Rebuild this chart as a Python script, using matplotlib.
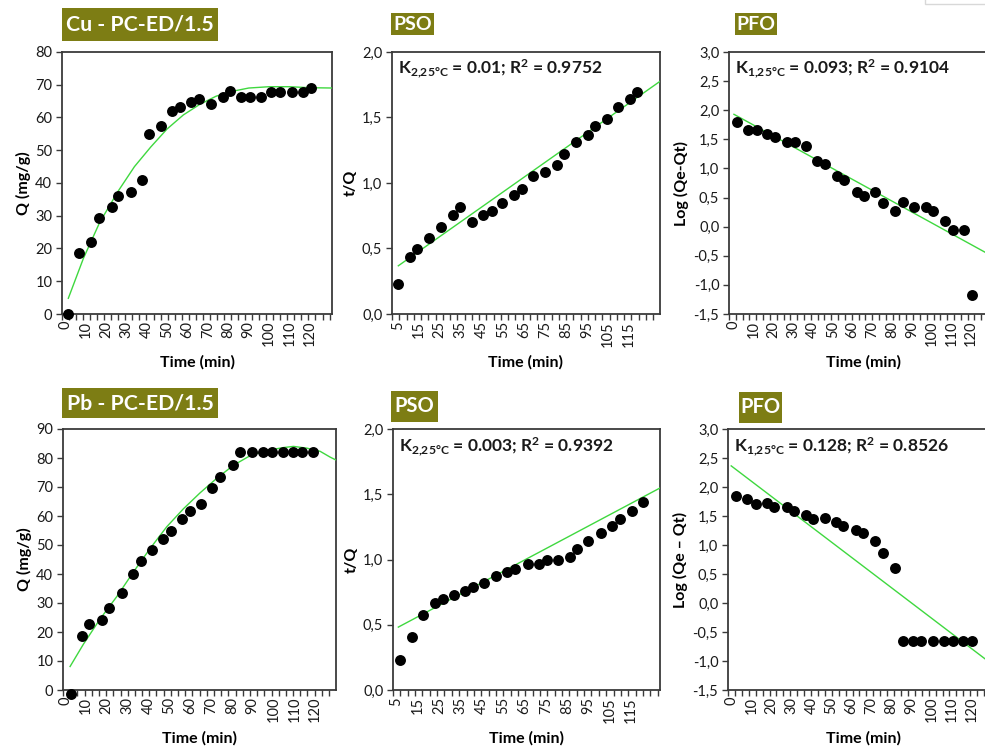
import numpy as np
import matplotlib
matplotlib.use("Agg")
import matplotlib.pyplot as plt
from matplotlib.ticker import FuncFormatter, FixedLocator
from matplotlib.patches import Rectangle

plt.rcParams['font.family'] = ['Lato', 'DejaVu Sans']
plt.rcParams['mathtext.fontset'] = 'custom'
plt.rcParams['mathtext.rm'] = 'Lato:bold'
plt.rcParams['mathtext.bf'] = 'Lato:bold'
plt.rcParams['mathtext.it'] = 'Lato:bold'
plt.rcParams['mathtext.default'] = 'bf'

# ---------------- data ----------------
# Cu kinetics
cu_t = [1.6, 6.9, 12.7, 16.7, 22.9, 26.1, 32.2, 37.6, 41.1, 47.0, 52.4, 56.3, 61.7,
        65.8, 71.3, 77.2, 80.8, 86.0, 90.6, 96.0, 101.0, 105.3, 111.0, 116.4, 120.5]
cu_q = [0, 18.5, 22, 29.2, 32.6, 36.1, 37.2, 41, 54.9, 57.4, 61.9, 63.2, 64.6,
        65.5, 64.2, 66.3, 68.1, 66.3, 66.3, 66.3, 67.8, 67.8, 67.8, 67.8, 69.0]
cu_fit_t = [1.6, 9, 17, 26, 34, 42, 50, 58, 66, 74, 82, 90, 100, 110, 120, 131]
cu_fit_q = [4.8, 17, 28, 37.5, 45, 51, 56.5, 60.8, 64, 66.5, 68, 69, 69.4, 69.4, 69.1, 69.0]

pso1_t = [5.3, 10.9, 14.4, 19.9, 25.6, 31.1, 34.6, 40.2, 45.7, 49.7, 54.8, 60.3,
          63.9, 69.2, 75.0, 80.6, 84.2, 89.6, 95.3, 98.8, 104.3, 109.9, 115.5, 119.0]
pso1_y = [0.229, 0.437, 0.493, 0.582, 0.666, 0.755, 0.813, 0.699, 0.755, 0.788, 0.844, 0.905,
          0.958, 1.052, 1.083, 1.141, 1.225, 1.314, 1.365, 1.433, 1.491, 1.581, 1.639, 1.695]
pso1_fit_t = [5.3, 129.7]
pso1_fit_y = [0.368, 1.776]

pfo1_t = [1.35, 6.9, 11.5, 16.9, 20.8, 26.7, 30.9, 36.5, 41.9, 46.1, 52.0, 55.9, 62.1,
          65.8, 71.4, 75.6, 81.5, 85.7, 91.3, 97.0, 100.9, 106.8, 110.7, 116.6, 120.3]
pfo1_y = [1.79, 1.66, 1.66, 1.60, 1.54, 1.45, 1.46, 1.39, 1.13, 1.07, 0.87, 0.80, 0.60,
          0.53, 0.60, 0.41, 0.27, 0.42, 0.34, 0.34, 0.27, 0.09, -0.06, -0.06, -1.17]
pfo1_fit_t = [0, 133]
pfo1_fit_y = [1.93, -0.55]

# Pb kinetics
pb_t = [2.9, 8.0, 11.7, 17.6, 21.3, 27.2, 32.5, 36.3, 41.6, 47.2, 50.9, 56.3, 60.0,
        65.3, 70.4, 74.4, 80.5, 84.0, 89.6, 95.2, 99.2, 104.8, 109.6, 113.6, 119.2]
pb_q = [-1.3, 18.7, 22.8, 24.1, 28.2, 33.5, 40.1, 44.4, 48.2, 52.2, 54.8, 58.8, 61.7,
        64.1, 69.5, 73.6, 77.6, 81.9, 81.9, 81.9, 81.9, 81.9, 81.9, 81.9, 81.9]
pb_fit_t = [2.4, 8.8, 16.8, 24.8, 32.8, 40.8, 48.8, 56.8, 64.8, 72.8, 80.8, 88.8,
            96.8, 104.8, 109.6, 116, 122.4, 127.2, 130]
pb_fit_q = [8.1, 15.8, 24.5, 32.2, 40.7, 48.8, 56.3, 62.5, 68, 73, 77.5, 80.8,
            82.6, 83.6, 84.0, 83.4, 82.3, 80.3, 79.3]

pso2_t = [6.6, 12.0, 17.5, 23.0, 26.6, 31.9, 37.1, 41.0, 46.2, 51.5, 56.6, 60.6,
          66.5, 71.8, 75.4, 80.9, 86.4, 89.8, 95.0, 100.8, 106.3, 109.8, 115.3, 120.8]
pso2_y = [0.228, 0.406, 0.576, 0.668, 0.698, 0.728, 0.756, 0.787, 0.820, 0.876, 0.906, 0.931,
          0.964, 0.964, 0.995, 0.995, 1.020, 1.079, 1.142, 1.200, 1.256, 1.312, 1.371, 1.439]
pso2_fit_t = [5.8, 128.6]
pso2_fit_y = [0.482, 1.548]

pfo2_t = [2.3, 8.0, 12.2, 17.6, 21.3, 27.6, 31.5, 37.1, 40.9, 46.8, 52.3, 55.9, 62.3,
          65.9, 71.7, 75.9, 81.7, 85.6, 90.4, 94.7, 100.6, 106.2, 110.5, 115.8, 120.0]
pfo2_y = [1.849, 1.797, 1.711, 1.722, 1.649, 1.654, 1.580, 1.523, 1.448, 1.465, 1.391, 1.322, 1.265,
          1.208, 1.065, 0.864, 0.607, -0.65, -0.65, -0.65, -0.65, -0.65, -0.65, -0.65, -0.65]
pfo2_fit_t = [0, 133]
pfo2_fit_y = [2.364, -1.133]

titles = ["Cu - PC-ED/1.5", "PSO", "PFO", "Pb - PC-ED/1.5", "PSO", "PFO"]
annots = [None,
          r"K$_{2{,}25°C}$ = 0.01; R$^{2}$ = 0.9752",
          r"K$_{1{,}25°C}$ = 0.093; R$^{2}$ = 0.9104",
          None,
          r"K$_{2{,}25°C}$ = 0.003; R$^{2}$ = 0.9392",
          r"K$_{1{,}25°C}$ = 0.128; R$^{2}$ = 0.8526"]
ylabels = ["Q (mg/g)", "t/Q", "Log (Qe-Qt)", "Q (mg/g)", "t/Q", "Log (Qe \u2013 Qt)"]

# ---------------- figure ----------------
W, H = 985, 751
fig = plt.figure(figsize=(W / 100, H / 100), dpi=100)

GREEN = '#3fd83f'
OLIVE = '#7d7d14'
SPINE = '#3a3a3a'

def px_axes(l, t, r, b):
    return fig.add_axes([l / W, 1 - b / H, (r - l) / W, (b - t) / H])

def comma(v, pos):
    return f"{v:.1f}".replace('.', ',')

def style(ax, xlim, ylim, yticks, xlabels, decimal, ylabel):
    ax.set_xlim(*xlim)
    ax.set_ylim(*ylim)
    ax.set_yticks(yticks)
    if decimal:
        ax.yaxis.set_major_formatter(FuncFormatter(comma))
    ax.xaxis.set_major_locator(FixedLocator(xlabels))
    ax.set_xticklabels([str(v) for v in xlabels], rotation=90, fontsize=10.5, color='#1a1a1a')
    ax.xaxis.set_minor_locator(FixedLocator(np.arange(xlim[0], xlim[1], 3.45)))
    ax.tick_params(axis='x', which='major', length=0, pad=5)
    ax.tick_params(axis='x', which='minor', length=4, width=1.0, color=SPINE, direction='out')
    ax.tick_params(axis='y', which='major', length=4, width=1.0, color=SPINE,
                   labelsize=10.5, labelcolor='#1a1a1a', pad=3)
    for s in ax.spines.values():
        s.set_color(SPINE)
        s.set_linewidth(1.3)
    ax.set_xlabel("Time (min)", fontsize=11.5, fontweight='bold', labelpad=6)
    ax.set_ylabel(ylabel, fontsize=11.5, fontweight='bold', labelpad=3)

def scatter(ax, x, y):
    ax.scatter(x, y, s=62, color='black', zorder=4, clip_on=False, linewidths=0)

def fitline(ax, x, y):
    ax.plot(x, y, color=GREEN, lw=1.0, zorder=3, clip_on=True)

# axes rectangles in pixels (left, top, right, bottom)
rects = [(62, 52, 332, 314), (392, 52, 660, 314), (729, 52, 998, 314),
         (63, 429, 336, 690), (393, 429, 660, 690), (728, 429, 998, 690)]
axs = [px_axes(*r) for r in rects]

lab10 = list(range(0, 121, 10))
lab5 = list(range(5, 116, 10))

ax = axs[0]
fitline(ax, cu_fit_t, cu_fit_q)
scatter(ax, cu_t, cu_q)
style(ax, (-1.5, 130.8), (0, 80), range(0, 81, 10), lab10, False, ylabels[0])

ax = axs[1]
fitline(ax, pso1_fit_t, pso1_fit_y)
scatter(ax, pso1_t, pso1_y)
style(ax, (2.3, 129.7), (0, 2.0), np.arange(0, 2.01, 0.5), lab5, True, ylabels[1])

ax = axs[2]
fitline(ax, pfo1_fit_t, pfo1_fit_y)
scatter(ax, pfo1_t, pfo1_y)
style(ax, (-2.5, 133.6), (-1.5, 3.0), np.arange(-1.5, 3.01, 0.5), lab10, True, ylabels[2])

ax = axs[3]
fitline(ax, pb_fit_t, pb_fit_q)
scatter(ax, pb_t, pb_q)
style(ax, (-1.0, 130.0), (0, 90), range(0, 91, 10), lab10, False, ylabels[3])

ax = axs[4]
fitline(ax, pso2_fit_t, pso2_fit_y)
scatter(ax, pso2_t, pso2_y)
style(ax, (3.3, 128.6), (0, 2.0), np.arange(0, 2.01, 0.5), lab5, True, ylabels[4])

ax = axs[5]
fitline(ax, pfo2_fit_t, pfo2_fit_y)
scatter(ax, pfo2_t, pfo2_y)
style(ax, (-1.6, 133.0), (-1.5, 3.0), np.arange(-1.5, 3.01, 0.5), lab10, True, ylabels[5])

# annotations (text centre y in axes fraction)
ann_y = [None, 0.935, 0.935, None, 0.931, 0.931]
for ax, a, yy in zip(axs, annots, ann_y):
    if a:
        ax.text(0.022, yy, a, transform=ax.transAxes, fontsize=12.5, fontweight='bold',
                ha='left', va='center', color='#1a1a1a')

# olive title boxes: (left, top, right, bottom) in pixels, fontsize
boxes = [((62, 8, 218, 41), 15.3), ((391, 13, 434, 35), 14),
         ((735, 13, 777, 35), 14), ((62, 388, 218, 418), 15.3),
         ((391, 391, 438, 422), 14.5), ((739, 392, 782, 423), 14.5)]
for ((l, t, r, b), fs), txt in zip(boxes, titles):
    fig.patches.append(Rectangle((l / W, 1 - b / H), (r - l) / W, (b - t) / H,
                                 transform=fig.transFigure, facecolor=OLIVE,
                                 edgecolor='none', zorder=0))
    fig.text((l + r) / 2 / W, 1 - (t + b) / 2 / H, txt, fontsize=fs, fontweight='bold',
             color='white', ha='center', va='center')

# faint box at top right (screenshot artefact)
fig.patches.append(Rectangle((925 / W, 1 - 4 / H), 70 / W, 10 / H, transform=fig.transFigure,
                             facecolor='white', edgecolor='#d8d8d8', lw=1.0))

fig.savefig("out.png", dpi=100)
